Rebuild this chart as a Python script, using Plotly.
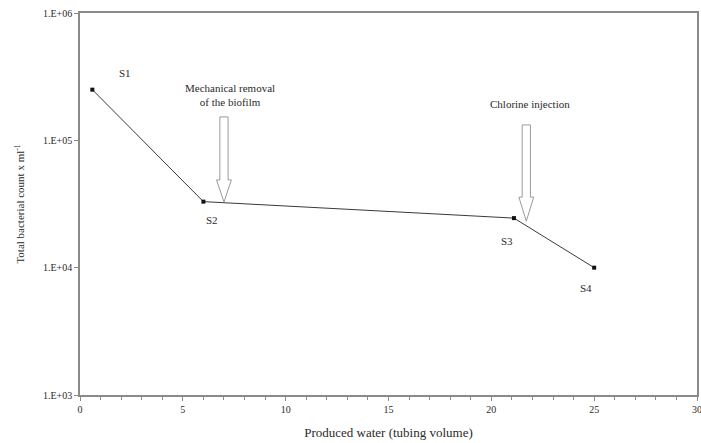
import numpy as np
import plotly.graph_objects as go

# Data
sample_labels = ["S1", "S2", "S3", "S4"]
produced_water = [0.6, 6.0, 21.1, 25.0]
bacterial_count = [2.5e5, 3.3e4, 2.45e4, 1.0e4]

event_labels = ["Mechanical removal<br>of the biofilm", "Chlorine injection"]
event_x = [7.0, 21.7]

y_tickvals = [1e3, 1e4, 1e5, 1e6]
y_ticktext = ["1.E+03", "1.E+04", "1.E+05", "1.E+06"]
x_tickvals = [0, 5, 10, 15, 20, 25, 30]

FONT = "Liberation Serif, Times New Roman, serif"
TXT = "#2a2a2a"
AX = "#8a8a8a"

fig = go.Figure()
fig.add_trace(go.Scatter(
    x=produced_water, y=bacterial_count, mode="lines+markers",
    line=dict(color="#3a3a3a", width=1),
    marker=dict(symbol="square", size=4, color="#111111"),
    showlegend=False, hoverinfo="skip"))

# sample labels (offsets in px)
offsets = [(33, 17), (9, -18), (-7, -23), (-8, -20)]
annotations = []
for lab, xv, yv, (dx, dy) in zip(sample_labels, produced_water, bacterial_count, offsets):
    annotations.append(dict(x=xv, y=np.log10(yv), xref="x", yref="y", text=lab,
                            showarrow=False, xshift=dx, yshift=dy,
                            font=dict(family=FONT, size=11, color=TXT)))

# event texts and hollow arrows (x in data units, y in paper units)
arrow_geom = [  # (top, head_start, tip) in paper fraction
    (0.728, 0.563, 0.505),
    (0.707, 0.518, 0.455),
]
text_y = [0.825, 0.782]
text_dx = [0.3, 0.2]
shapes = []
for lab, ex, (top, hs, tip), ty, tdx in zip(event_labels, event_x, arrow_geom, text_y, text_dx):
    annotations.append(dict(x=ex + tdx, y=ty, xref="x", yref="paper", text=lab,
                            showarrow=False, align="center", yanchor="top",
                            font=dict(family=FONT, size=11, color=TXT)))
    w = 0.2
    hw = 0.36
    path = (f"M {ex-w} {top} L {ex+w} {top} L {ex+w} {hs} L {ex+hw} {hs} "
            f"L {ex} {tip} L {ex-hw} {hs} L {ex-w} {hs} Z")
    shapes.append(dict(type="path", path=path, xref="x", yref="paper",
                       line=dict(color="#9a9a9a", width=1), fillcolor="white"))

fig.update_layout(
    width=701, height=443,
    margin=dict(l=80, r=4, t=13, b=48, autoexpand=False),
    paper_bgcolor="white", plot_bgcolor="white",
    font=dict(family=FONT, size=10, color=TXT),
    annotations=annotations, shapes=shapes,
    xaxis=dict(range=[0, 30], tickvals=x_tickvals, showgrid=False, zeroline=False,
               showline=True, linecolor=AX, linewidth=1.5, mirror=True,
               ticks="outside", ticklen=4, tickcolor=AX, automargin=False,
               ticklabeloverflow="allow",
               minor=dict(dtick=1, ticks="outside", ticklen=3, tickcolor=AX),
               tickfont=dict(family=FONT, size=10, color=TXT),
               title=dict(text="Produced water (tubing volume)", standoff=14,
                          font=dict(family=FONT, size=13, color=TXT))),
    yaxis=dict(type="log", range=[3, 6], tickvals=y_tickvals, ticktext=y_ticktext,
               showgrid=False, zeroline=False, automargin=False,
               showline=True, linecolor=AX, linewidth=1.5, mirror=True,
               ticks="outside", ticklen=4, tickcolor=AX,
               tickfont=dict(family=FONT, size=10, color=TXT),
               title=dict(text="Total bacterial count x ml<sup>-1</sup>", standoff=16,
                          font=dict(family=FONT, size=11, color=TXT))),
)

fig.write_html("out.html")
